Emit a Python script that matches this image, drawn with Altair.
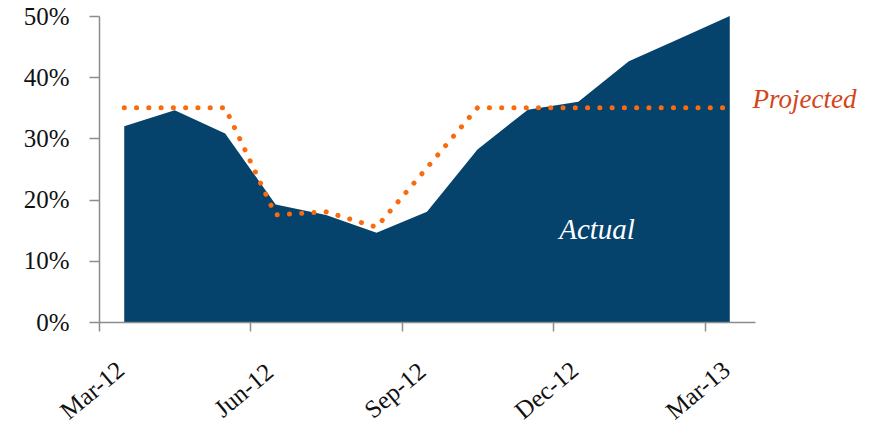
import altair as alt
import pandas as pd

months = ["Mar-12", "Apr-12", "May-12", "Jun-12", "Jul-12", "Aug-12", "Sep-12",
          "Oct-12", "Nov-12", "Dec-12", "Jan-13", "Feb-13", "Mar-13"]
actual = [32.0, 34.6, 30.8, 19.2, 17.5, 14.6, 18.0, 28.2, 34.7, 36.0, 42.6, 46.3, 50.0]
projected = [35.0, 35.0, 35.0, 17.5, 18.0, 15.5, 25.2, 35.0, 35.0, 35.0, 35.0, 35.0, 35.0]
tick_values = [-0.5, 2.5, 5.5, 8.5, 11.5]
y_ticks = [0, 0.1, 0.2, 0.3, 0.4, 0.5]

df = pd.DataFrame({
    "idx": list(range(len(months))),
    "month": months,
    "actual": [v / 100 for v in actual],
    "projected": [v / 100 for v in projected],
})

FONT = "Liberation Serif"
AXIS_COLOR = "#8c8c8c"
label_expr = "[" + ",".join("'" + m + "'" for m in months) + "][round(datum.value + 0.5)]"

x_enc = alt.X(
    "idx:Q",
    scale=alt.Scale(domain=[-0.5, 12.5], nice=False, zero=False),
    axis=alt.Axis(
        title=None, values=tick_values, labelExpr=label_expr, grid=False,
        domainColor=AXIS_COLOR, domainWidth=1.5, tickColor=AXIS_COLOR, tickWidth=1.5,
        tickSize=9, labelAngle=320, labelAlign="center", labelBaseline="middle",
        labelPadding=59, labelOffset=-7, labelFont=FONT, labelFontSize=25,
        labelColor="#111111", labelFlush=False, labelOverlap=False, zindex=1,
    ),
)

y_scale = alt.Scale(domain=[0, 0.5], nice=False)
y_axis = alt.Axis(
    title=None, values=y_ticks, format=".0%", grid=False,
    domainColor=AXIS_COLOR, domainWidth=1.5, tickColor=AXIS_COLOR, tickWidth=1.5,
    tickSize=10, labelPadding=20, labelFont=FONT, labelFontSize=25,
    labelColor="#111111", labelFlush=False, labelOverlap=False, zindex=1,
)

area = alt.Chart(df).mark_area(color="#05426C", opacity=1).encode(
    x=x_enc,
    y=alt.Y("actual:Q", scale=y_scale, axis=y_axis),
)

line = alt.Chart(df).mark_line(
    color="#F96B0E", strokeWidth=5, strokeDash=[0.1, 12.17], strokeCap="round"
).encode(
    x="idx:Q",
    y="projected:Q",
)

proj_label = pd.DataFrame({"idx": [12.45], "val": [0.35], "text": ["Projected"]})
act_label = pd.DataFrame({"idx": [8.62], "val": [0.135], "text": ["Actual"]})

proj_text = alt.Chart(proj_label).mark_text(
    align="left", baseline="alphabetic", font=FONT, fontSize=27,
    fontStyle="italic", color="#D4461A"
).encode(x="idx:Q", y="val:Q", text="text:N")

act_text = alt.Chart(act_label).mark_text(
    align="left", baseline="alphabetic", font=FONT, fontSize=29,
    fontStyle="italic", color="#FFFFFF"
).encode(x="idx:Q", y="val:Q", text="text:N")

chart = alt.layer(area, line, proj_text, act_text).properties(
    width=656, height=306,
    padding={"left": 99, "top": 16, "right": 118, "bottom": 101},
    autosize=alt.AutoSizeParams(type="none"),
).configure_view(stroke=None)

chart.save("out.html", embed_options={"renderer": "svg", "actions": False})
